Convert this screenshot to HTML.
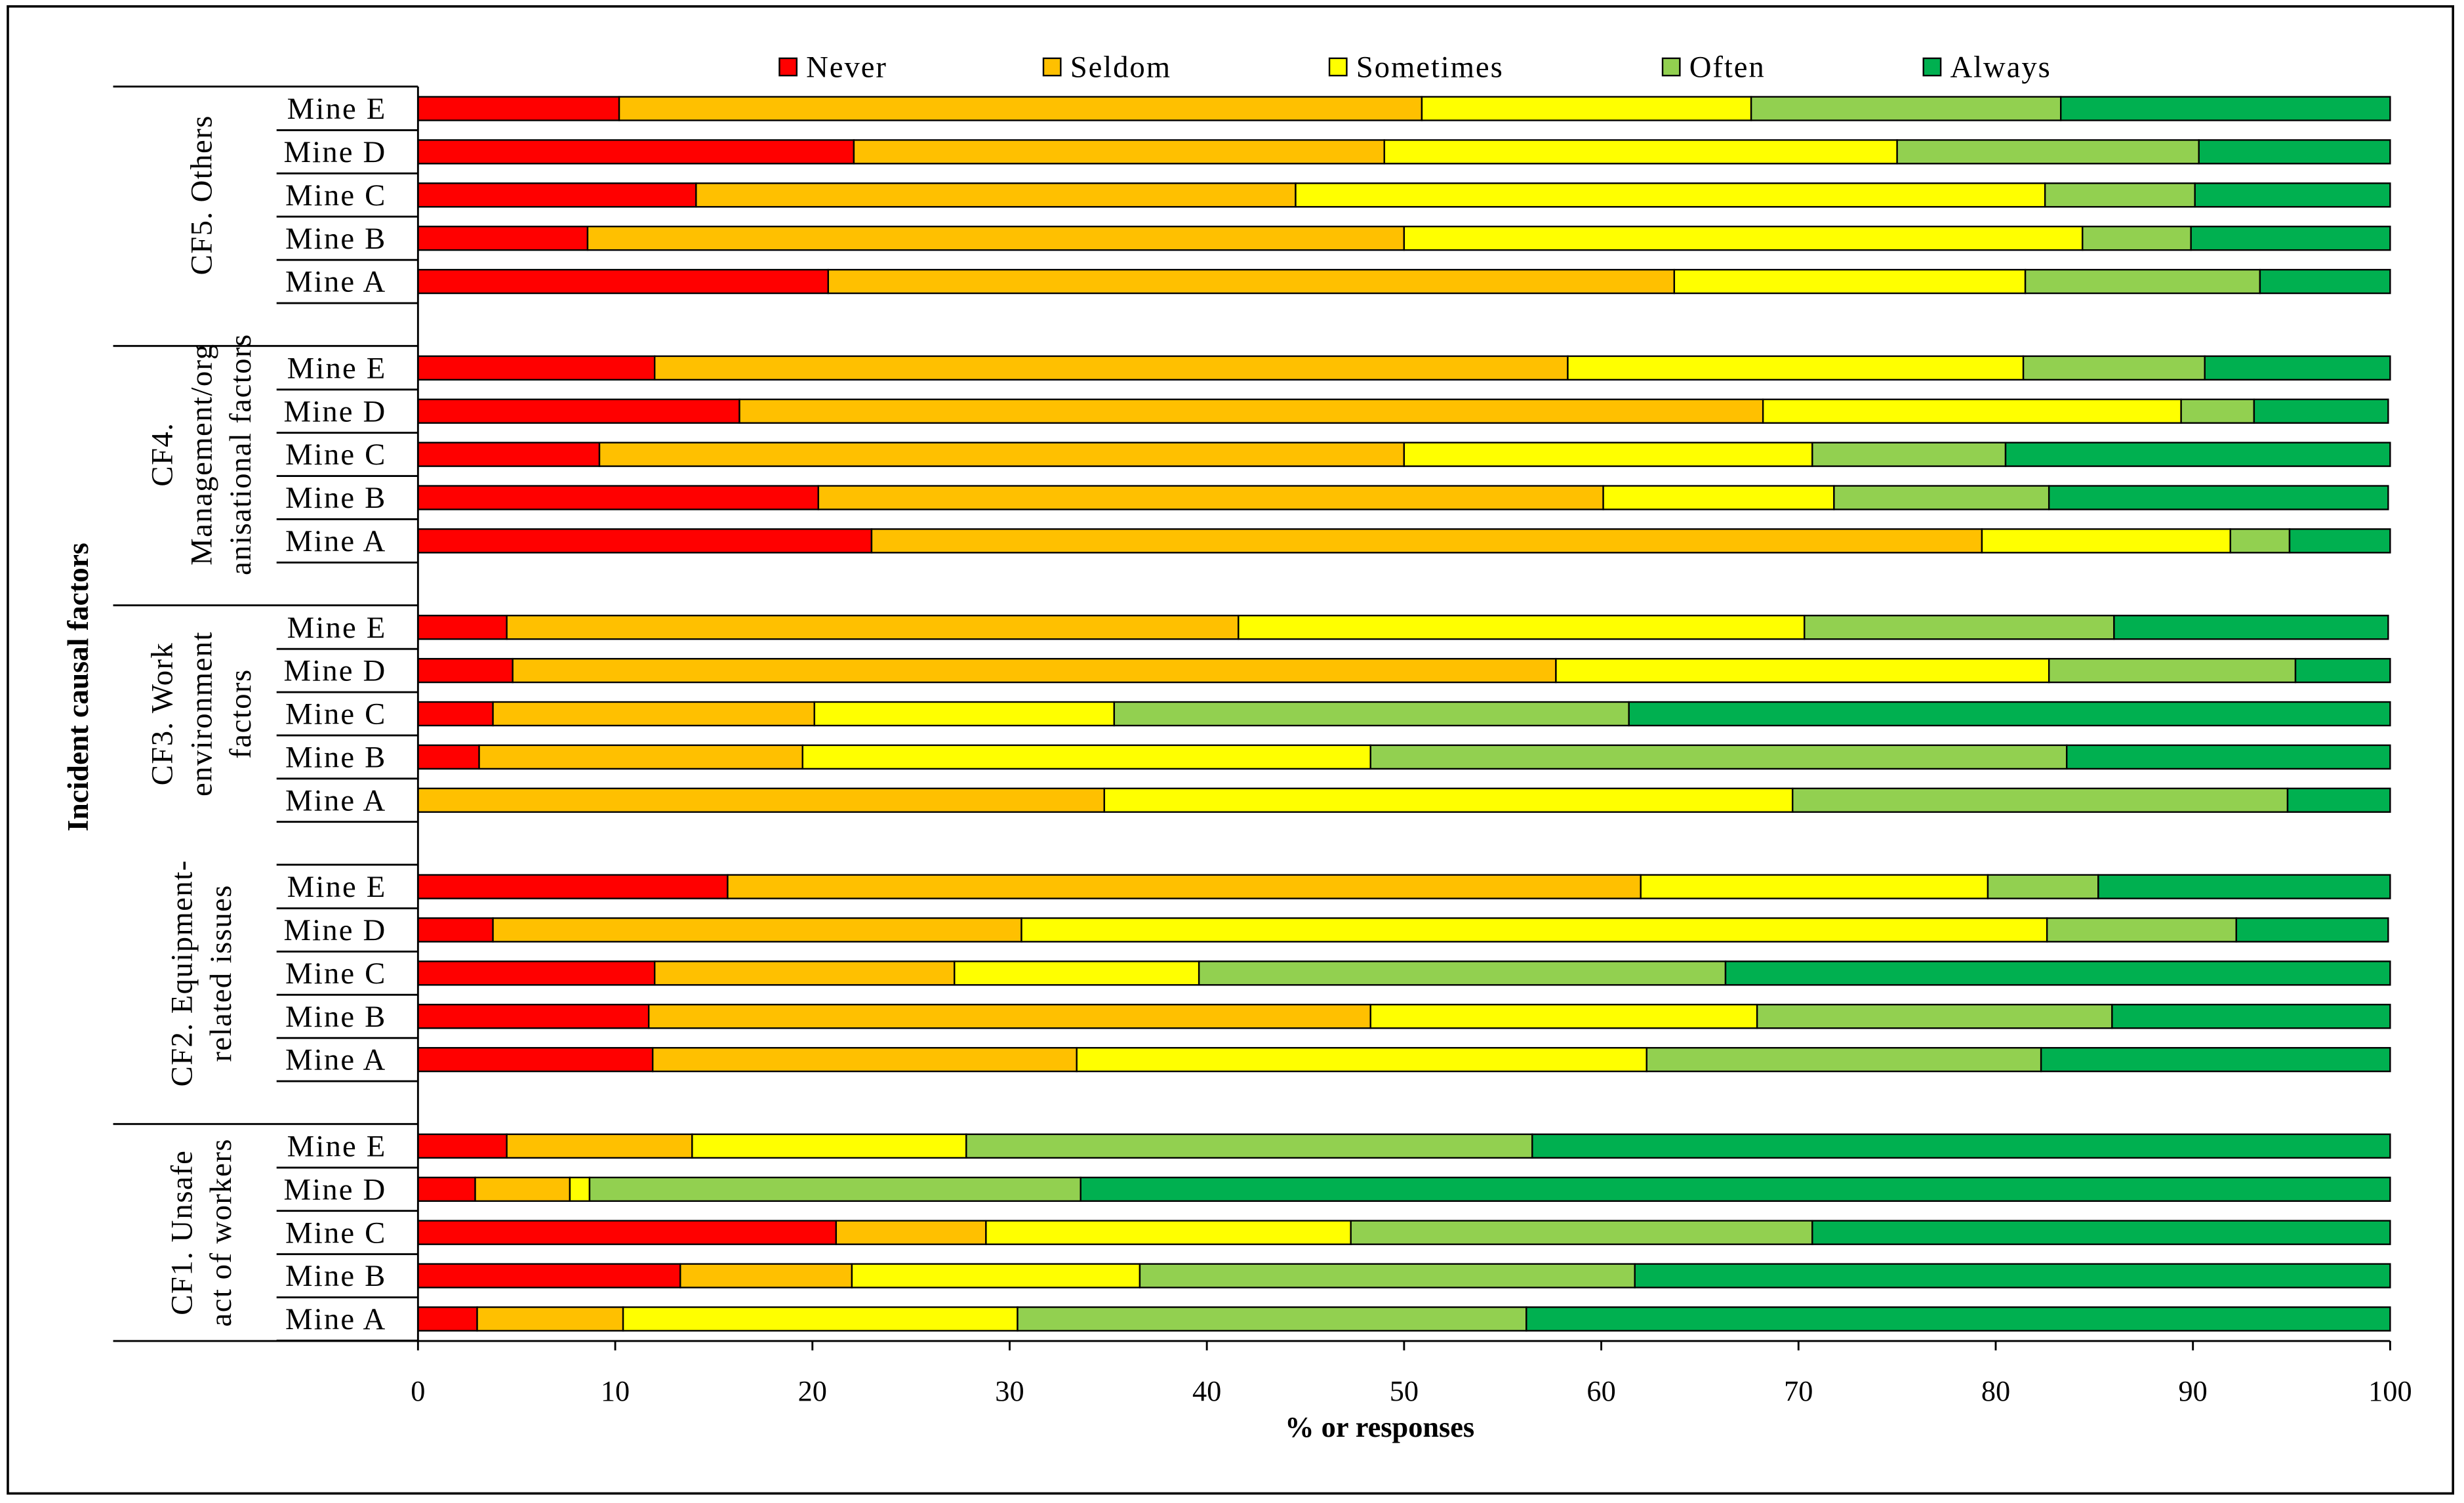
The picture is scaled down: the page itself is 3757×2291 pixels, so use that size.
<!DOCTYPE html>
<html><head><meta charset="utf-8"><style>html,body{margin:0;padding:0;background:#fff}svg{display:block}text{font-family:"Liberation Serif",serif;fill:#000}</style></head>
<body>
<svg id="chart" width="3757" height="2291" viewBox="0 0 1568 956" xmlns="http://www.w3.org/2000/svg">
<rect x="5" y="4" width="1556" height="946" fill="#fff" stroke="#000" stroke-width="1.5"/>
<g id="plot"></g>
</svg>
<script>
const groups = ["CF5. Others","CF4. Management/org anisational factors","CF3. Work environment factors","CF2. Equipment-related issues","CF1. Unsafe act of workers"];
const groupLines = [["CF5. Others"],["CF4.","Management/org","anisational factors"],["CF3. Work","environment","factors"],["CF2. Equipment-","related issues"],["CF1. Unsafe","act of workers"]];
const mines = ["Mine E","Mine D","Mine C","Mine B","Mine A"];
const seriesNames = ["Never","Seldom","Sometimes","Often","Always"];
const colors = ["#FF0000","#FFC000","#FFFF00","#92D050","#00B050"];
const never = [10.2,22.1,14.1,8.6,20.8, 12.0,16.3,9.2,20.3,23.0, 4.5,4.8,3.8,3.1,0, 15.7,3.8,12.0,11.7,11.9, 4.5,2.9,21.2,13.3,3.0];
const seldom = [40.7,26.9,30.4,41.4,42.9, 46.3,51.9,40.8,39.8,56.3, 37.1,52.9,16.3,16.4,34.8, 46.3,26.8,15.2,36.6,21.5, 9.4,4.8,7.6,8.7,7.4];
const sometimes = [16.7,26.0,38.0,34.4,17.8, 23.1,21.2,20.7,11.7,12.6, 28.7,25.0,15.2,28.8,34.9, 17.6,52.0,12.4,19.6,28.9, 13.9,1.0,18.5,14.6,20.0];
const often = [15.7,15.3,7.6,5.5,11.9, 9.2,3.7,9.8,10.9,3.0, 15.7,12.5,26.1,35.3,25.1, 5.6,9.6,26.7,18.0,20.0, 28.7,24.9,23.4,25.1,25.8];
const always = [16.7,9.7,9.9,10.1,6.6, 9.4,6.8,19.5,17.2,5.1, 13.9,4.8,38.6,16.4,5.2, 14.8,7.7,33.7,14.1,17.7, 43.5,66.4,29.3,38.3,43.8];
const xTicks = [0,10,20,30,40,50,60,70,80,90,100];

const NS="http://www.w3.org/2000/svg";
const g=document.getElementById('plot');
const x0=266,x1=1521;
const xs=v=>x0+(x1-x0)*v/100;
const rowY=(gi,mi)=>69+gi*165+mi*27.5;
function el(t,a,txt){const e=document.createElementNS(NS,t);for(const k in a)e.setAttribute(k,a[k]);if(txt!=null)e.textContent=txt;g.appendChild(e);return e;}
const series=[never,seldom,sometimes,often,always];
for(let gi=0;gi<groups.length;gi++){
  for(let mi=0;mi<mines.length;mi++){
    const idx=gi*5+mi;const cy=rowY(gi,mi);let acc=0;
    for(let s=0;s<5;s++){
      const v=series[s][idx];
      const r=el('rect',{x:xs(acc),y:cy-7.5,width:Math.max(0,xs(acc+v)-xs(acc)),height:15,fill:colors[s],stroke:'#000','stroke-width':1});
      
      
      acc+=v;
    }
    const t=el('text',{x:246,y:cy+6.5,'text-anchor':'end','font-size':19.5,'letter-spacing':0.9},mines[mi]);
    
    
    const ln=el('line',{x1:176,x2:266,y1:cy+13.75,y2:cy+13.75,stroke:'#000','stroke-width':1.2});
    
    
  }
  const top=rowY(gi,0)-14;
  const gl=el('line',{x1:(gi==3?176:72),x2:266,y1:top,y2:top,stroke:'#000','stroke-width':1.2});
  
  
  const cx=128,cyc=rowY(gi,2);const lines=groupLines[gi];
  const gt=el('text',{transform:`translate(${cx},${cyc}) rotate(-90)`,'text-anchor':'middle','font-size':19.5,'letter-spacing':0.6});
  
  
  lines.forEach((l,i)=>{const ts=document.createElementNS(NS,'tspan');ts.setAttribute('x',0);ts.setAttribute('y',(i-(lines.length-1)/2)*25+6.5);ts.textContent=l;gt.appendChild(ts);});
}
const bl=el('line',{x1:72,x2:266,y1:853,y2:853,stroke:'#000','stroke-width':1.2});


const ya=el('line',{x1:266,x2:266,y1:55,y2:853,stroke:'#000','stroke-width':1.2});


const xa=el('line',{x1:266,x2:1521,y1:853,y2:853,stroke:'#000','stroke-width':1.2});


xTicks.forEach(v=>{
  const tk=el('line',{x1:xs(v),x2:xs(v),y1:853,y2:859,stroke:'#000','stroke-width':1.2});
  
  
  const tl=el('text',{x:xs(v),y:891,'text-anchor':'middle','font-size':18.5},String(v));
  
  
});
const xt=el('text',{x:878,y:914,'text-anchor':'middle','font-size':18.5,'font-weight':'bold'},'% or responses');


const yt=el('text',{transform:'translate(56,437) rotate(-90)','text-anchor':'middle','font-size':19,'font-weight':'bold'},'Incident causal factors');


const lx=[496,664,846,1058,1224];
seriesNames.forEach((n,i)=>{
  const sw=el('rect',{x:lx[i],y:37,width:11,height:11,fill:colors[i],stroke:'#000','stroke-width':1});
  
  
  const lt=el('text',{x:lx[i]+17,y:49,'font-size':19.5,'letter-spacing':0.8},n);
  
  
});
</script>
</body></html>
